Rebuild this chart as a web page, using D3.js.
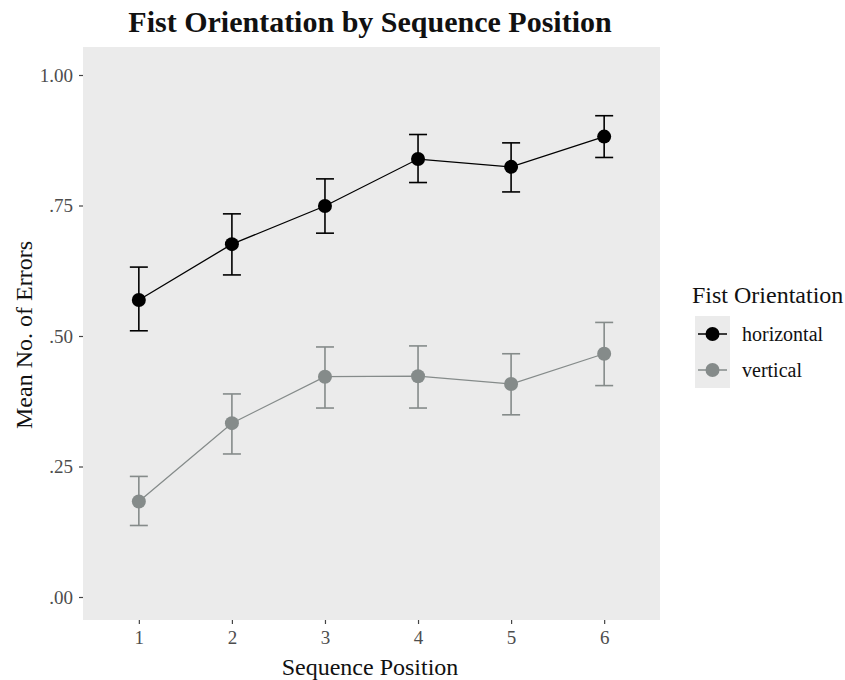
<!DOCTYPE html>
<html>
<head>
<meta charset="utf-8">
<script src="https://cdn.jsdelivr.net/npm/d3@7"></script>
<style>
  body { margin: 0; background: #fff; }
  text { font-family: "Liberation Serif", "Times New Roman", serif; }
</style>
</head>
<body>
<svg id="chart" width="845" height="680"></svg>
<script>
// data
const positions = [1, 2, 3, 4, 5, 6];
const groups = ["horizontal", "vertical"];
const horizontalMean = [0.569, 0.676, 0.749, 0.839, 0.824, 0.882];
const horizontalLow = [0.510, 0.617, 0.697, 0.794, 0.776, 0.842];
const horizontalHigh = [0.632, 0.734, 0.801, 0.886, 0.870, 0.922];
const verticalMean = [0.183, 0.333, 0.422, 0.423, 0.408, 0.466];
const verticalLow = [0.137, 0.274, 0.362, 0.362, 0.349, 0.405];
const verticalHigh = [0.231, 0.389, 0.479, 0.481, 0.466, 0.526];
const yTicks = [0, 0.25, 0.5, 0.75, 1];
const yTickLabels = [".00", ".25", ".50", ".75", "1.00"];

const colors = { horizontal: "#000000", vertical: "#858b8a" };

const series = [
  { name: "horizontal", mean: horizontalMean, low: horizontalLow, high: horizontalHigh },
  { name: "vertical", mean: verticalMean, low: verticalLow, high: verticalHigh }
];

// panel box
const panel = { left: 83, right: 660, top: 47, bottom: 620 };

const svg = d3.select("#chart");

const x = d3.scalePoint()
  .domain(positions)
  .range([panel.left, panel.right])
  .padding(0.6);

const y = d3.scaleLinear()
  .domain([0, 1])
  .range([597, 75]);

// grey panel
svg.append("rect")
  .attr("x", panel.left)
  .attr("y", panel.top)
  .attr("width", panel.right - panel.left)
  .attr("height", panel.bottom - panel.top)
  .attr("fill", "#ebebeb");

// y axis
const yAxis = svg.append("g")
  .attr("transform", `translate(${panel.left},0)`)
  .call(d3.axisLeft(y).tickValues(yTicks).tickSize(4).tickPadding(6)
    .tickFormat((d, i) => yTickLabels[i]));
yAxis.select(".domain").remove();
yAxis.selectAll("line").attr("stroke", "#444").attr("stroke-width", 1.2);
yAxis.selectAll("text")
  .attr("fill", "#4d4d4d")
  .style("font-size", "19px")
  .style("font-family", "'Liberation Serif', serif");

// x axis
const xAxis = svg.append("g")
  .attr("transform", `translate(0,${panel.bottom})`)
  .call(d3.axisBottom(x).tickSize(4).tickPadding(7));
xAxis.select(".domain").remove();
xAxis.selectAll("line").attr("stroke", "#444").attr("stroke-width", 1.2);
xAxis.selectAll("text")
  .attr("fill", "#4d4d4d")
  .style("font-size", "19px")
  .style("font-family", "'Liberation Serif', serif");

// lines, error bars, points
const line = d3.line()
  .x((d, i) => x(positions[i]))
  .y(d => y(d));

const capHalf = 9;

series.forEach(s => {
  const col = colors[s.name];
  const g = svg.append("g");

  g.append("path")
    .attr("d", line(s.mean))
    .attr("fill", "none")
    .attr("stroke", col)
    .attr("stroke-width", 1.3);

  positions.forEach((p, i) => {
    const cx = x(p);
    g.append("line")
      .attr("x1", cx).attr("x2", cx)
      .attr("y1", y(s.low[i])).attr("y2", y(s.high[i]))
      .attr("stroke", col).attr("stroke-width", 1.6);
    g.append("line")
      .attr("x1", cx - capHalf).attr("x2", cx + capHalf)
      .attr("y1", y(s.high[i])).attr("y2", y(s.high[i]))
      .attr("stroke", col).attr("stroke-width", 1.6);
    g.append("line")
      .attr("x1", cx - capHalf).attr("x2", cx + capHalf)
      .attr("y1", y(s.low[i])).attr("y2", y(s.low[i]))
      .attr("stroke", col).attr("stroke-width", 1.6);
  });

  g.selectAll("circle")
    .data(s.mean)
    .join("circle")
    .attr("cx", (d, i) => x(positions[i]))
    .attr("cy", d => y(d))
    .attr("r", 7)
    .attr("fill", col);
});

// title
svg.append("text")
  .attr("x", 370)
  .attr("y", 32)
  .attr("text-anchor", "middle")
  .style("font-size", "30px")
  .style("font-weight", "bold")
  .attr("fill", "#111")
  .text("Fist Orientation by Sequence Position");

// axis titles
svg.append("text")
  .attr("x", 370)
  .attr("y", 675)
  .attr("text-anchor", "middle")
  .style("font-size", "24px")
  .attr("fill", "#111")
  .text("Sequence Position");

svg.append("text")
  .attr("transform", "translate(32,335) rotate(-90)")
  .attr("text-anchor", "middle")
  .style("font-size", "24px")
  .attr("fill", "#111")
  .text("Mean No. of Errors");

// legend
const legend = svg.append("g").attr("transform", "translate(692,0)");
legend.append("text")
  .attr("x", 0)
  .attr("y", 303)
  .style("font-size", "24px")
  .attr("fill", "#111")
  .text("Fist Orientation");

groups.forEach((name, i) => {
  const cy = 334 + i * 36;
  legend.append("rect")
    .attr("x", 3).attr("y", cy - 18)
    .attr("width", 35).attr("height", 36)
    .attr("fill", "#ebebeb");
  legend.append("line")
    .attr("x1", 6).attr("x2", 35)
    .attr("y1", cy).attr("y2", cy)
    .attr("stroke", colors[name]).attr("stroke-width", 1.5);
  legend.append("circle")
    .attr("cx", 20.5).attr("cy", cy).attr("r", 7)
    .attr("fill", colors[name]);
  legend.append("text")
    .attr("x", 50).attr("y", cy + 7)
    .style("font-size", "20px")
    .attr("fill", "#111")
    .text(name);
});
</script>
</body>
</html>
